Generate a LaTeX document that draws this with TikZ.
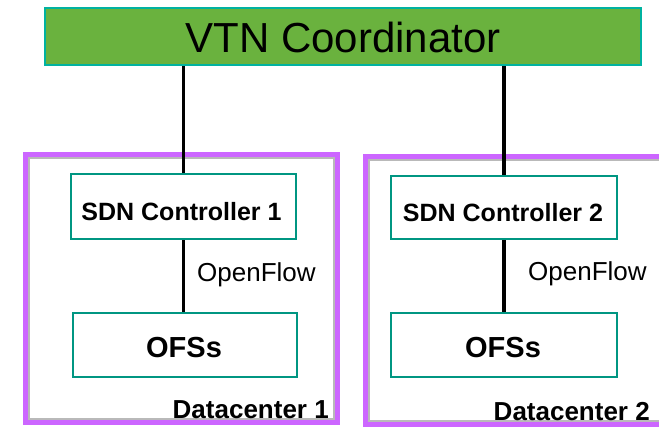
\documentclass[tikz,border=0pt]{standalone}
\usepackage{fontspec}
\setmainfont{Liberation Sans}
\definecolor{vtngreen}{RGB}{106,178,62}
\definecolor{vtnteal}{RGB}{0,178,160}
\definecolor{boxteal}{RGB}{0,150,130}
\definecolor{dcpurple}{RGB}{204,102,255}
\definecolor{dcgray}{RGB}{185,185,185}
\tikzset{
  dcbox/.style={draw=dcpurple, line width=5pt, fill=white},
  dcinner/.style={draw=dcgray, line width=1.8pt},
  ctrlbox/.style={draw=boxteal, line width=2.5pt, fill=white, rectangle, inner sep=0pt},
  link/.style={draw=black, line width=3.5pt},
  txt/.style={inner sep=0pt, text=black},
}
\begin{document}
\begin{tikzpicture}[x=1pt,y=-1pt]
\useasboundingbox (0,0) rectangle (659,428);
% datacenters
\draw[dcbox] (25.5,154.5) rectangle (337.5,422.5);
\draw[dcinner] (28.9,157.9) rectangle (334.1,419.1);
\draw[dcbox] (365.5,156.5) rectangle (675,424.5);
\draw[dcinner] (368.9,159.9) rectangle (675,421.1);
% coordinator
\node[draw=vtnteal, fill=vtngreen, line width=2.5pt, rectangle, inner sep=0pt,
      minimum width=596pt, minimum height=57pt] (vtn) at (343,36.5) {};
\node[txt, anchor=base] (vtnt) at (343,53) {\fontsize{42}{48}\selectfont VTN Coordinator};
% boxes
\node[ctrlbox, minimum width=225pt, minimum height=65pt] (c1) at (183.5,206.5) {};
\node[ctrlbox, minimum width=224pt, minimum height=64pt] (o1) at (185,345) {};
\node[ctrlbox, minimum width=226pt, minimum height=63pt] (c2) at (504,207.5) {};
\node[ctrlbox, minimum width=226pt, minimum height=64pt] (o2) at (504,345) {};
% links
\draw[link, line width=3pt] (vtn.south -| c1.north) -- (c1.north);
\draw[link, line width=3.5pt] (c1.south) -- (o1.north -| c1.south);
\draw[link, line width=4.5pt] (vtn.south -| c2.north) -- (c2.north);
\draw[link, line width=4.5pt] (c2.south) -- (o2.north);
% texts
\node[txt, anchor=base] (c1t) at (181.5,220) {\fontsize{25}{30}\selectfont\bfseries SDN Controller 1};
\node[txt, anchor=base] (c2t) at (503,221) {\fontsize{25}{30}\selectfont\bfseries SDN Controller 2};
\node[txt, anchor=base] (o1t) at (184,357) {\fontsize{29}{34}\selectfont\bfseries OFSs};
\node[txt, anchor=base] (o2t) at (503,357) {\fontsize{29}{34}\selectfont\bfseries OFSs};
\node[txt, anchor=base west] (of1) at (197,281) {\fontsize{26}{30}\selectfont OpenFlow};
\node[txt, anchor=base west] (of2) at (528,280) {\fontsize{26}{30}\selectfont OpenFlow};
\node[txt, anchor=base east] (d1) at (329,418) {\fontsize{26}{30}\selectfont\bfseries Datacenter 1};
\node[txt, anchor=base east] (d2) at (650,420) {\fontsize{26}{30}\selectfont\bfseries Datacenter 2};
\end{tikzpicture}
\end{document}
